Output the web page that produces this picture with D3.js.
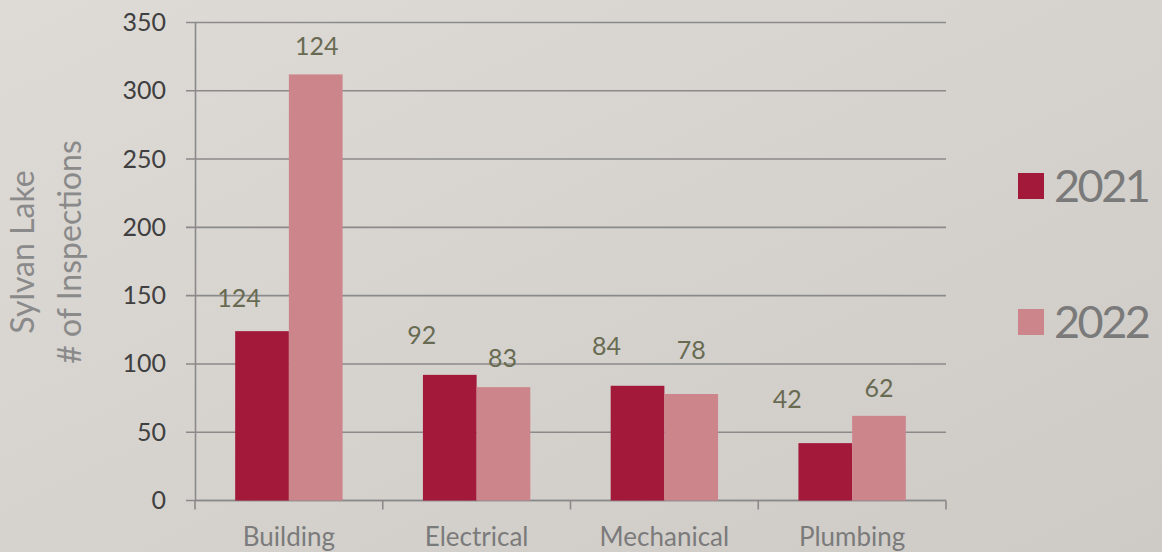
<!DOCTYPE html>
<html>
<head>
<meta charset="utf-8">
<script src="https://cdn.jsdelivr.net/npm/d3@7"></script>
<style>
  html, body { margin: 0; padding: 0; }
  body { width: 1162px; height: 552px; overflow: hidden; }
  svg { display: block; font-family: Lato, 'Open Sans', sans-serif; }
</style>
</head>
<body>
<svg id="chart" width="1162" height="552"></svg>
<script>
// data
var categories = ['Building', 'Electrical', 'Mechanical', 'Plumbing'];
var seriesNames = ['2021', '2022'];
var values2021 = [124, 92, 84, 42];
var values2022 = [312, 83, 78, 62];
// data labels as printed on the chart (Building 2022 shows 124)
var labels2021 = ['124', '92', '84', '42'];
var labels2022 = ['124', '83', '78', '62'];
var yTicks = [0, 50, 100, 150, 200, 250, 300, 350];

// label nudges (px) relative to bar centre / top
var nudge2021 = [[-23, -24], [-28, -31], [-31, -31], [-38, -35]];
var nudge2022 = [[1, -19], [-1, -20], [0, -35], [0, -19]];

var colors = { '2021': '#a3193a', '2022': '#cd858c' };

var svg = d3.select('#chart');

var defs = svg.append('defs');
var grad = defs.append('linearGradient').attr('id', 'bg')
  .attr('x1', 0).attr('y1', 0).attr('x2', 1).attr('y2', 1);
grad.append('stop').attr('offset', '0%').attr('stop-color', '#dedbd7');
grad.append('stop').attr('offset', '100%').attr('stop-color', '#cecbc7');
svg.append('rect').attr('width', 1162).attr('height', 552).attr('fill', 'url(#bg)');

var plotLeft = 195, plotRight = 946, plotTop = 22.5, plotBottom = 500.5;

var x = d3.scaleBand().domain(categories).range([plotLeft, plotRight]);
var bw = x.bandwidth();
var x1 = d3.scaleBand().domain(seriesNames).range([bw * 0.214, bw * 0.786]);
var y = d3.scaleLinear().domain([0, 350]).range([plotBottom, plotTop]);

// gridlines + y ticks
svg.append('g').selectAll('line').data(yTicks).enter().append('line')
  .attr('x1', plotLeft - 9).attr('x2', plotRight)
  .attr('y1', function(d) { return y(d); }).attr('y2', function(d) { return y(d); })
  .attr('stroke', '#8a8a8a').attr('stroke-width', 1.6);

var yAxis = svg.append('g').attr('transform', 'translate(' + plotLeft + ',0)')
  .call(d3.axisLeft(y).tickValues(yTicks).tickSize(0).tickPadding(29));
yAxis.select('.domain').attr('stroke', '#8a8a8a').attr('stroke-width', 1.6);
yAxis.selectAll('text').attr('font-size', 25).attr('fill', '#404040')
  .attr('font-family', 'Lato, sans-serif');

// x axis
svg.append('line').attr('x1', plotLeft).attr('x2', plotRight).attr('y1', plotBottom).attr('y2', plotBottom)
  .attr('stroke', '#8a8a8a').attr('stroke-width', 1.6);
var bounds = categories.map(function(c) { return x(c); }).concat([plotRight]);
svg.append('g').selectAll('line').data(bounds).enter().append('line')
  .attr('x1', function(d) { return d; }).attr('x2', function(d) { return d; })
  .attr('y1', plotBottom).attr('y2', plotBottom + 9)
  .attr('stroke', '#8a8a8a').attr('stroke-width', 1.6);
svg.append('g').selectAll('text').data(categories).enter().append('text')
  .attr('x', function(d) { return x(d) + bw / 2; })
  .attr('y', 546)
  .attr('text-anchor', 'middle')
  .attr('font-size', 26).attr('fill', '#7b7b7b')
  .text(function(d) { return d; });

// bars
var flat = d3.merge(categories.map(function(c, i) {
  return [
    { cat: c, s: '2021', v: values2021[i], label: labels2021[i], n: nudge2021[i] },
    { cat: c, s: '2022', v: values2022[i], label: labels2022[i], n: nudge2022[i] }
  ];
}));

svg.append('g').selectAll('rect').data(flat).enter().append('rect')
  .attr('x', function(d) { return x(d.cat) + x1(d.s); })
  .attr('y', function(d) { return y(d.v); })
  .attr('width', x1.bandwidth())
  .attr('height', function(d) { return y(0) - y(d.v); })
  .attr('fill', function(d) { return colors[d.s]; });

svg.append('g').selectAll('text').data(flat).enter().append('text')
  .attr('x', function(d) { return x(d.cat) + x1(d.s) + x1.bandwidth() / 2 + d.n[0]; })
  .attr('y', function(d) { return y(d.v) + d.n[1]; })
  .attr('text-anchor', 'middle')
  .attr('font-size', 25).attr('fill', '#686b52')
  .text(function(d) { return d.label; });

// axis title
var title = svg.append('text')
  .attr('transform', 'translate(0,252) rotate(-90)')
  .attr('text-anchor', 'middle')
  .attr('font-size', 32).attr('fill', '#8a8a8a');
title.append('tspan').attr('x', 0).attr('y', 34).text('Sylvan Lake');
title.append('tspan').attr('x', 0).attr('y', 81).text('# of Inspections');

// legend
var legend = svg.append('g').selectAll('g').data(seriesNames).enter().append('g')
  .attr('transform', function(d, i) { return 'translate(1018,' + (173 + i * 136) + ')'; });
legend.append('rect').attr('width', 26).attr('height', 26)
  .attr('fill', function(d) { return colors[d]; });
legend.append('text').attr('x', 36).attr('y', 28.5)
  .attr('font-size', 45).attr('letter-spacing', -2.5).attr('fill', '#7a7a7a')
  .text(function(d) { return d; });
</script>
</body>
</html>
